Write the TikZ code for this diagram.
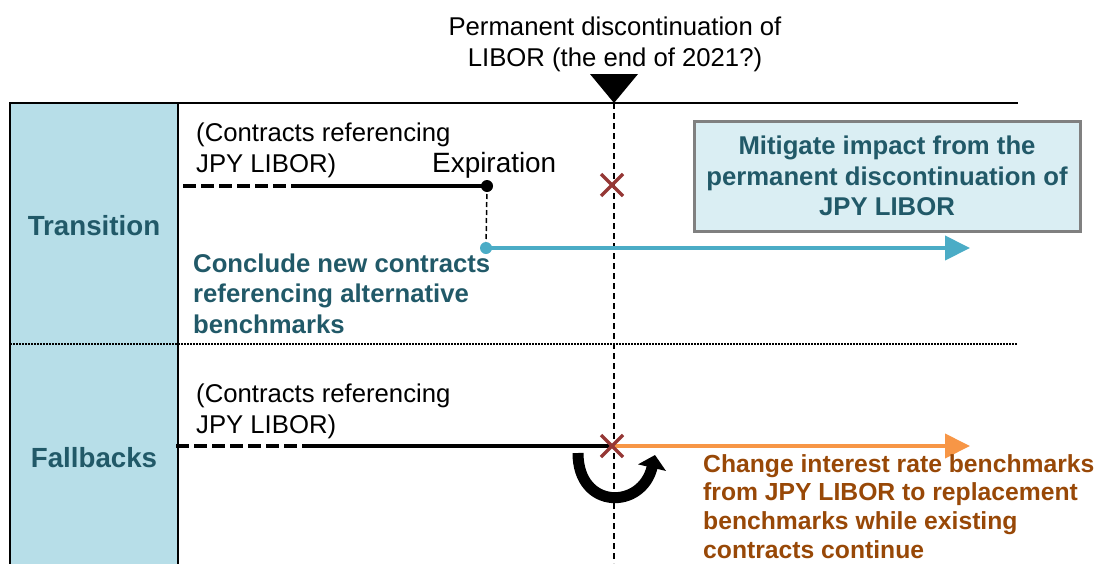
\documentclass[tikz,border=0pt]{standalone}
\usepackage{fontspec}
\setmainfont{Liberation Sans}
\usetikzlibrary{arrows.meta}
\definecolor{lanefill}{HTML}{B7DEE8}
\definecolor{boxfill}{HTML}{DAEEF3}
\definecolor{tealtext}{HTML}{215968}
\definecolor{newblue}{HTML}{4BACC6}
\definecolor{fbkorange}{HTML}{F79646}
\definecolor{fbktext}{HTML}{984807}
\definecolor{crossred}{HTML}{953735}
\begin{document}
\begin{tikzpicture}[x=1pt,y=-1pt,>=Stealth,
  txt/.style={font=\fontsize{25.7}{30.5}\selectfont, inner sep=0, align=left, anchor=base west},
  boldtxt/.style={txt, font=\fontsize{25.7}{30.5}\selectfont\bfseries},
  lane/.style={inner sep=0, anchor=base, text=tealtext, font=\fontsize{27.7}{32}\selectfont\bfseries},
  contract/.style={line width=4.5},
  oldpart/.style={contract, dash pattern=on 13pt off 5pt},
  timeline/.style={line width=1.5, dash pattern=on 6pt off 4pt},
  xmark/.style={crossred, line width=3.5},
  arr/.style={line width=4, -{Triangle[length=25pt,width=24pt]}}]
\useasboundingbox (0,0) rectangle (1099,563);
\coordinate (T) at (614,103);
\coordinate (Tb) at (614,563);
\coordinate (a0) at (183,186);
\coordinate (a1) at (300,186);
\coordinate (a2) at (487,186);
\coordinate (n0) at (486,248);
\coordinate (n1) at (970,248);
\coordinate (b0) at (176,446);
\coordinate (b1) at (315,446);
\coordinate (b2) at (612,446);
\coordinate (b3) at (970,446);
\fill[lanefill] (10,103) rectangle (178,570);
\draw[line width=2] (10,570) -- (10,103) -- (1018,103);
\draw[line width=2] (178,103) -- (178,570);
\draw[line width=1.5, dash pattern=on 1.5pt off 1.5pt] (10,344) -- (1018,344);
\fill (590,74) -- (638,74) -- (T) -- cycle;
\draw[timeline] (T) -- (Tb);
\node[txt, align=center, anchor=base] (title) at (615,66) {Permanent discontinuation of\\LIBOR (the end of 2021?)};
\node[lane] (trans) at (94,235) {Transition};
\node[lane] (fall) at (94,467) {Fallbacks};
\node[txt] (oldA) at (196,172) {(Contracts referencing\\JPY LIBOR)};
\node[txt, font=\fontsize{27.9}{32}\selectfont] (expir) at (432,172) {Expiration};
\draw[oldpart] (a0) -- (a1);
\draw[contract] (a1) -- (a2);
\fill (a2) circle (6);
\draw[line width=1.5, dash pattern=on 5pt off 3pt] (a2) -- (n0);
\draw[arr, newblue] (n0) -- (n1);
\fill[newblue] (n0) circle (6);
\node[boldtxt, text=tealtext] (newc) at (193,333) {Conclude new contracts\\referencing alternative\\benchmarks};
\draw[xmark] (612,185) ++(-11,-11) -- ++(22,22) ++(-22,0) -- ++(22,-22);
\node[draw=black!50, line width=3, fill=boxfill, minimum width=386, minimum height=110, align=center, text=tealtext, font=\fontsize{25.7}{30.5}\selectfont\bfseries] (mitig) at (887,176) {Mitigate impact from the\\permanent discontinuation of\\JPY LIBOR};
\node[txt] (oldB) at (196,433) {(Contracts referencing\\JPY LIBOR)};
\draw[oldpart] (b0) -- (b1);
\draw[contract] (b1) -- (b2);
\draw[arr, fbkorange] (b2) -- (b3);
\draw[xmark] (b2) ++(-11,-11) -- ++(22,22) ++(-22,0) -- ++(22,-22);
\draw[line width=11, -{Triangle[length=13pt,width=28pt]}] (578,453) .. controls (578,510) and (642,510) .. (655,455);
\node[boldtxt, text=fbktext, font=\fontsize{24.7}{28.6}\selectfont\bfseries] (change) at (703,558) {Change interest rate benchmarks\\from JPY LIBOR to replacement\\benchmarks while existing\\contracts continue};
\end{tikzpicture}
\end{document}
